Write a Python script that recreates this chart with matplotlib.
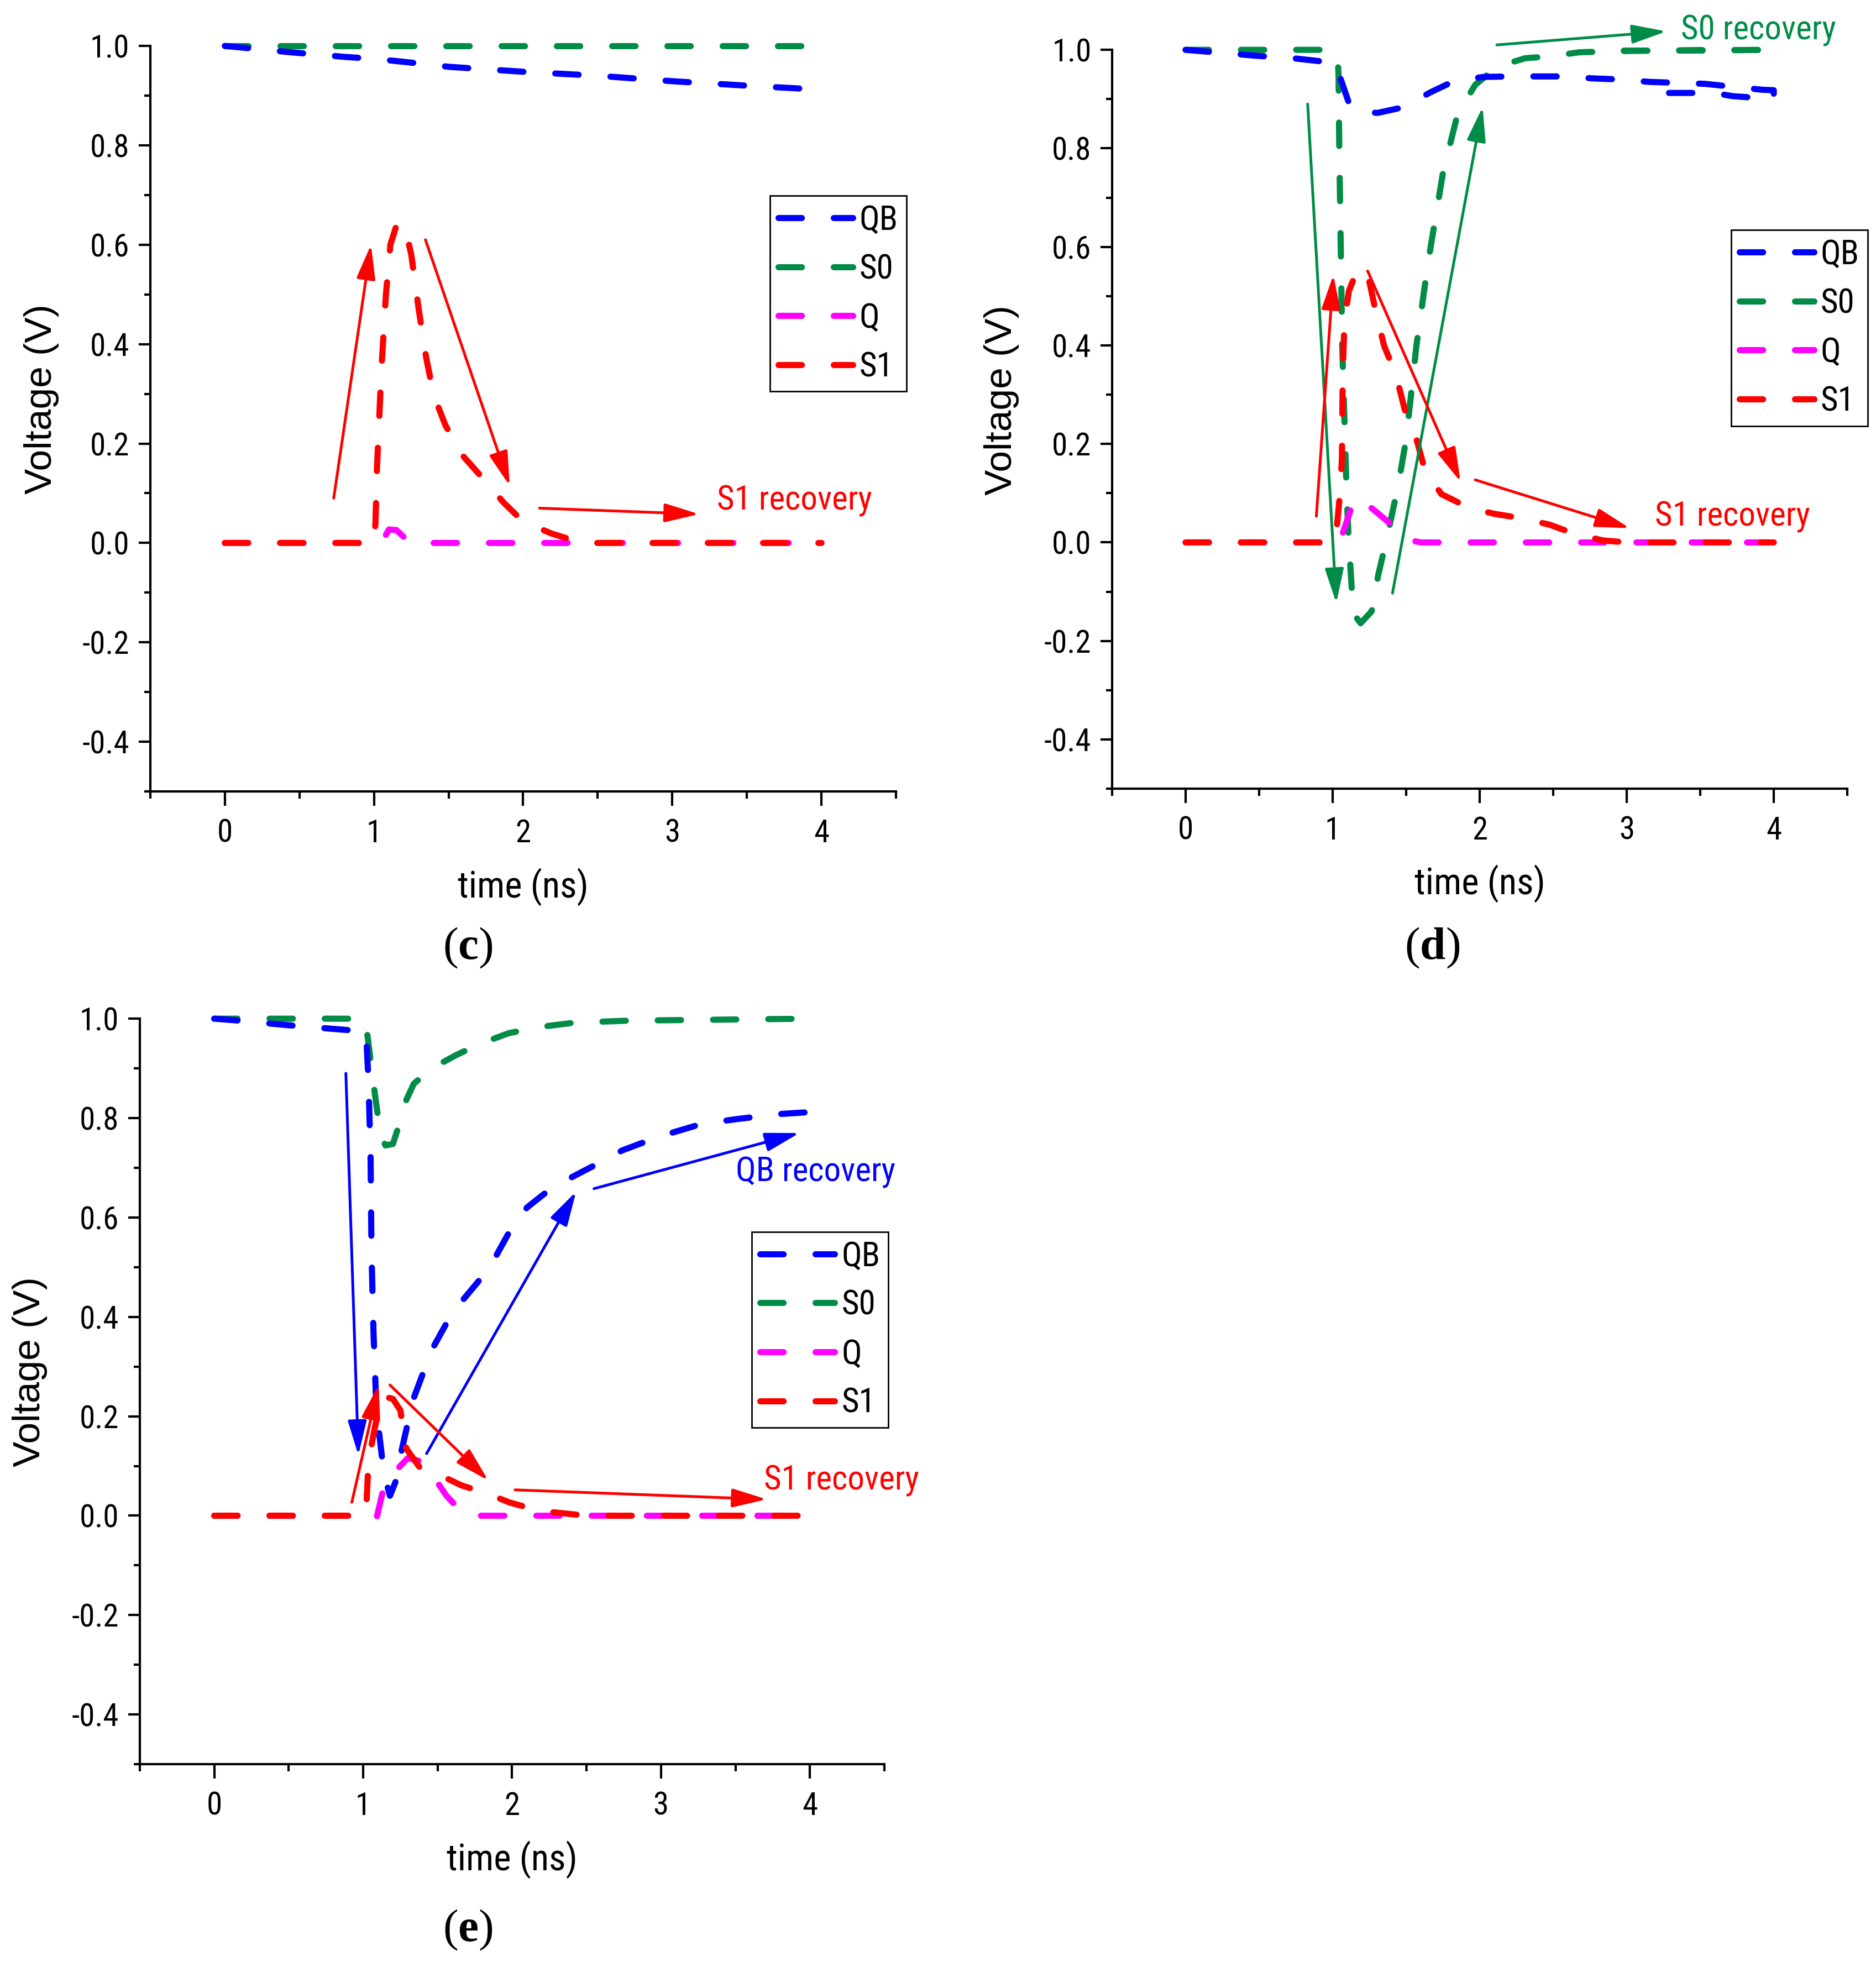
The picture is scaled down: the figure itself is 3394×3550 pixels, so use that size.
import matplotlib
matplotlib.use("Agg")
import matplotlib.pyplot as plt
from matplotlib.lines import Line2D

NARROW = ['Roboto Condensed', 'Open Sans Condensed', 'Liberation Sans Narrow',
          'Liberation Sans', 'DejaVu Sans']
plt.rcParams['font.family'] = NARROW
plt.rcParams['axes.unicode_minus'] = False
plt.rcParams['mathtext.fontset'] = 'custom'
plt.rcParams['mathtext.bf'] = 'Liberation Serif:bold'

BLUE = '#0000FF'
GREEN = '#008C46'
MAGENTA = '#FF00FF'
RED = '#FF0000'

x_ticks = [0, 1, 2, 3, 4]
x_minor = [-0.5, 0.5, 1.5, 2.5, 3.5, 4.5]
y_ticks = [-0.4, -0.2, 0.0, 0.2, 0.4, 0.6, 0.8, 1.0]
y_minor = [-0.5, -0.3, -0.1, 0.1, 0.3, 0.5, 0.7, 0.9]

# ---- panel (c) ----
c_qb_t = [0, 0.45, 0.8, 1.0, 1.2, 1.5, 2.0, 2.5, 3.0, 3.5, 4.0]
c_qb_v = [1.0, 0.987, 0.978, 0.974, 0.968, 0.958, 0.948, 0.94, 0.929, 0.92, 0.912]
c_s0_t = [0, 4.0]
c_s0_v = [1.0, 1.0]
c_q_t = [0, 1.05, 1.1, 1.15, 1.2, 1.27, 4.0]
c_q_v = [0, 0, 0.027, 0.026, 0.012, 0, 0]
c_s1_t = [0, 1.0, 1.01, 1.02, 1.05, 1.08, 1.11, 1.15, 1.18, 1.22, 1.25, 1.30, 1.35, 1.40,
          1.48, 1.60, 1.73, 1.87, 2.0, 2.19, 2.35, 2.5, 4.0]
c_s1_v = [0, 0, 0.04, 0.15, 0.35, 0.50, 0.60, 0.638, 0.645, 0.62, 0.58, 0.47, 0.373, 0.298,
          0.236, 0.174, 0.13, 0.081, 0.043, 0.019, 0.004, 0, 0]

# ---- panel (d) ----
d_qb_t = [0, 0.48, 0.73, 0.91, 1.0, 1.053, 1.12, 1.2, 1.306, 1.49, 1.66, 1.836, 2.03, 2.21,
          2.585, 2.77, 2.95, 3.15, 3.53, 3.92, 4.0, 4.0, 3.72, 3.59, 3.23, 3.15]
d_qb_v = [1.0, 0.988, 0.983, 0.977, 0.974, 0.942, 0.884, 0.874, 0.872, 0.884, 0.913, 0.938,
          0.945, 0.946, 0.946, 0.942, 0.94, 0.935, 0.931, 0.919, 0.918, 0.90, 0.906, 0.9125,
          0.9125, 0.93]
d_s0_t = [0, 1.0, 1.035, 1.04, 1.045, 1.05, 1.055, 1.06, 1.065, 1.075, 1.085, 1.095, 1.11,
          1.125, 1.14, 1.19, 1.265, 1.31, 1.37, 1.42, 1.46, 1.50, 1.57, 1.65, 1.75, 1.85,
          1.97, 2.12, 2.31, 2.49, 2.675, 3.0, 4.0, 3.5, 2.9]
d_s0_v = [1.0, 1.0, 0.98, 0.95, 0.80, 0.70, 0.60, 0.50, 0.40, 0.30, 0.20, 0.10, 0.0,
          -0.07, -0.144, -0.164, -0.14, -0.066, 0.01, 0.08, 0.14, 0.21, 0.40, 0.57, 0.75,
          0.87, 0.929, 0.966, 0.983, 0.987, 0.995, 0.998, 1.0, 0.999, 0.998]
d_q_t = [0, 1.06, 1.07, 1.14, 1.18, 1.28, 1.44, 1.55, 1.6, 4.0]
d_q_v = [0, 0, 0.02, 0.082, 0.09, 0.066, 0.026, 0.003, 0, 0]
d_s1_t = [0, 1.0, 1.03, 1.05, 1.063, 1.067, 1.072, 1.08, 1.11, 1.17, 1.24, 1.29, 1.35, 1.43,
          1.49, 1.566, 1.63, 1.74, 1.93, 2.10, 2.29, 2.475, 2.66, 2.84, 3.0, 4.0]
d_s1_v = [0, 0, 0.036, 0.10, 0.17, 0.30, 0.374, 0.448, 0.51, 0.555, 0.543, 0.473, 0.399,
          0.341, 0.27, 0.214, 0.144, 0.098, 0.070, 0.058, 0.049, 0.036, 0.016, 0.004, 0, 0]

# ---- panel (e) ----
e_qb_t = [0, 0.17, 0.49, 0.9, 1.02, 1.036, 1.05, 1.056, 1.07, 1.09, 1.14, 1.18, 1.22, 1.25,
          1.335, 1.46, 1.60, 1.77, 1.86, 1.98, 2.10, 2.26, 2.42, 2.58, 2.74, 2.98, 3.27,
          3.51, 3.79, 4.0]
e_qb_v = [1.0, 0.996, 0.987, 0.977, 0.97, 0.875, 0.72, 0.53, 0.365, 0.21, 0.084, 0.04, 0.07,
          0.12, 0.233, 0.333, 0.409, 0.47, 0.505, 0.57, 0.62, 0.658, 0.684, 0.709, 0.735,
          0.762, 0.788, 0.798, 0.808, 0.812]
e_s0_t = [0, 1.0, 1.03, 1.056, 1.09, 1.116, 1.15, 1.2, 1.24, 1.28, 1.34, 1.46, 1.62, 1.78,
          1.98, 2.18, 2.42, 2.78, 4.0]
e_s0_v = [1.0, 1.0, 0.965, 0.90, 0.824, 0.767, 0.745, 0.748, 0.785, 0.83, 0.869, 0.90, 0.926,
          0.949, 0.971, 0.983, 0.992, 0.996, 1.0]
e_q_t = [0, 1.08, 1.09, 1.14, 1.24, 1.30, 1.38, 1.46, 1.56, 1.66, 1.78, 4.0]
e_q_v = [0, 0, -0.005, 0.059, 0.097, 0.116, 0.11, 0.084, 0.04, 0.008, 0, 0]
e_s1_t = [0, 1.0, 1.024, 1.036, 1.076, 1.116, 1.14, 1.2, 1.25, 1.29, 1.38, 1.50, 1.66, 1.82,
          1.98, 2.18, 2.34, 2.5, 4.0]
e_s1_v = [0, 0, 0.033, 0.11, 0.173, 0.231, 0.24, 0.235, 0.212, 0.135, 0.097, 0.084, 0.061,
          0.046, 0.027, 0.010, 0.005, 0, 0]

# arrows: (tail, head, colour)
c_arrows = [((0.73, 0.09), (0.98, 0.60), RED),
            ((1.345, 0.61), (1.91, 0.115), RED),
            ((2.11, 0.07), (3.18, 0.058), RED)]
d_arrows = [((0.83, 0.89), (1.025, -0.123), GREEN),
            ((1.407, -0.103), (2.02, 0.884), GREEN),
            ((2.117, 1.01), (3.27, 1.0375), GREEN),
            ((0.889, 0.053), (1.005, 0.543), RED),
            ((1.238, 0.551), (1.87, 0.123), RED),
            ((1.97, 0.127), (3.02, 0.029), RED)]
e_arrows = [((0.884, 0.89), (0.968, 0.122), BLUE),
            ((1.426, 0.125), (2.43, 0.652), BLUE),
            ((2.55, 0.658), (3.93, 0.77), BLUE),
            ((0.924, 0.027), (1.104, 0.263), RED),
            ((1.18, 0.263), (1.84, 0.071), RED),
            ((2.02, 0.052), (3.71, 0.033), RED)]

c_notes = [('S1 recovery', (3.30, 0.085), RED)]
d_notes = [('S0 recovery', (3.37, 1.04), GREEN), ('S1 recovery', (3.19, 0.0525), RED)]
e_notes = [('QB recovery', (3.50, 0.691), BLUE), ('S1 recovery', (3.69, 0.071), RED)]

DASH = (0, (3.8, 5.2))
LW = 4.0


def panel(ax, qb, s0, q, s1, arrows, notes, leg_xy, ylab_x):
    kw = dict(lw=LW, linestyle=DASH, dash_capstyle='round', clip_on=False)
    ax.plot(s0[0], s0[1], color=GREEN, **kw)
    ax.plot(qb[0], qb[1], color=BLUE, **kw)
    ax.plot(q[0], q[1], color=MAGENTA, **kw)
    ax.plot(s1[0], s1[1], color=RED, **kw)

    for tail, head, col in arrows:
        ax.annotate('', xy=head, xytext=tail, annotation_clip=False,
                    arrowprops=dict(arrowstyle='-|>,head_length=0.95,head_width=0.26',
                                    mutation_scale=20, color=col, lw=1.8,
                                    shrinkA=0, shrinkB=0), zorder=4)
    for txt, pos, col in notes:
        ax.text(pos[0], pos[1], txt, color=col, fontsize=22, ha='left', va='center',
                clip_on=False)

    ax.set_xlim(-0.5, 4.5)
    ax.set_ylim(-0.5, 1.0)
    ax.set_xticks(x_ticks, labels=[str(v) for v in x_ticks])
    ax.set_xticks(x_minor, minor=True)
    ax.set_yticks(y_ticks, labels=['%.1f' % v for v in y_ticks])
    ax.set_yticks(y_minor, minor=True)
    ax.spines['top'].set_visible(False)
    ax.spines['right'].set_visible(False)
    ax.spines['left'].set_linewidth(1.5)
    ax.spines['bottom'].set_linewidth(1.5)
    ax.tick_params(axis='x', which='major', direction='out', length=9.5, width=1.5,
                   pad=8, labelsize=20.5)
    ax.tick_params(axis='x', which='minor', direction='out', length=4.5, width=1.5)
    ax.tick_params(axis='y', which='major', direction='out', length=7.5, width=1.5,
                   pad=6, labelsize=20.5)
    ax.tick_params(axis='y', which='minor', direction='out', length=4, width=1.5)
    ax.set_xlabel('time (ns)', fontsize=24)
    ax.xaxis.set_label_coords(0.5, -0.103)
    ax.set_ylabel('Voltage (V)', fontsize=25, family=['Liberation Sans', 'DejaVu Sans'])
    ax.yaxis.set_label_coords(ylab_x, 0.526)

    handles = [Line2D([], [], color=c, lw=LW, linestyle=DASH, dash_capstyle='round')
               for c in (BLUE, GREEN, MAGENTA, RED)]
    leg = ax.legend(handles, ['QB', 'S0', 'Q', 'S1'], loc='upper left',
                    bbox_to_anchor=leg_xy, borderaxespad=0, frameon=True, fancybox=False,
                    edgecolor='black', framealpha=1, fontsize=22, handlelength=2.2,
                    handletextpad=0.2, borderpad=0.25, labelspacing=0.5)
    leg.get_frame().set_linewidth(1.0)


fig = plt.figure(figsize=(16.97, 17.75), dpi=200)
ax_c = fig.add_axes([0.0801, 0.5966, 0.3975, 0.3800])
ax_d = fig.add_axes([0.5928, 0.5980, 0.3919, 0.3766])
ax_e = fig.add_axes([0.0745, 0.1008, 0.3969, 0.3800])

panel(ax_c, (c_qb_t, c_qb_v), (c_s0_t, c_s0_v), (c_q_t, c_q_v), (c_s1_t, c_s1_v),
      c_arrows, c_notes, (0.831, 0.799), -0.122)
panel(ax_d, (d_qb_t, d_qb_v), (d_s0_t, d_s0_v), (d_q_t, d_q_v), (d_s1_t, d_s1_v),
      d_arrows, d_notes, (0.842, 0.756), -0.126)
panel(ax_e, (e_qb_t, e_qb_v), (e_s0_t, e_s0_v), (e_q_t, e_q_v), (e_s1_t, e_s1_v),
      e_arrows, e_notes, (0.822, 0.714), -0.124)

for lab, x, y in [('c', 846, 1715), ('d', 2591, 1715), ('e', 846, 3492)]:
    fig.text(x / 3394, 1 - y / 3550, r'($\mathbf{%s}$)' % lab, family='Liberation Serif',
             fontsize=30, ha='center', va='center')

fig.savefig('out.png', dpi=200)
